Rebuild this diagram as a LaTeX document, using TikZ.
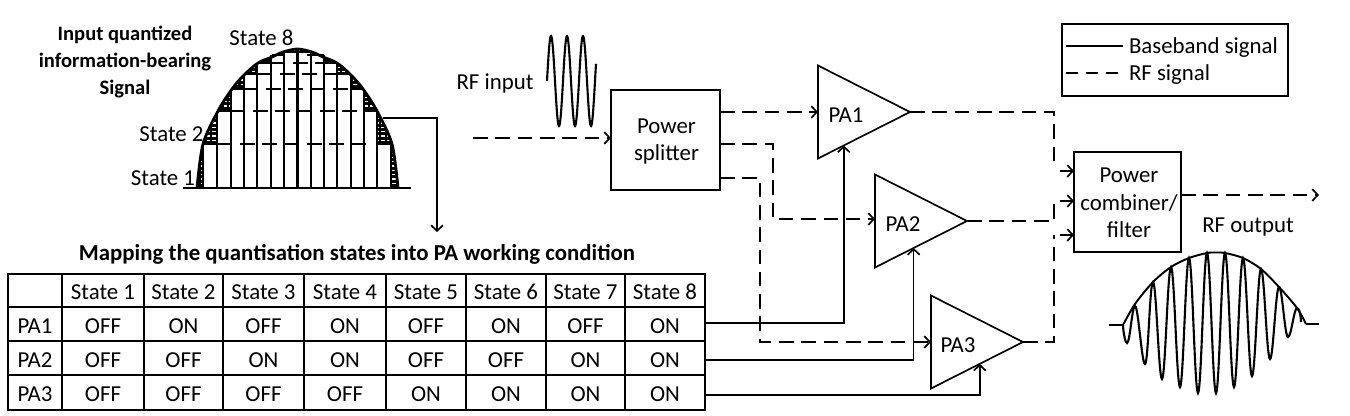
\documentclass[tikz,border=0pt]{standalone}
\usepackage{fontspec}
\setmainfont{Carlito}
\usetikzlibrary{arrows.meta,shapes.geometric,calc}
\tikzset{
  x=0.02cm,y=-0.02cm,
  every node/.style={font=\fontsize{13}{15.6}\selectfont,inner sep=0pt,outer sep=0pt},
  wire/.style={line width=0.95pt,line join=miter},
  bb/.style={wire},
  rf/.style={wire,dash pattern=on 8.3pt off 4.4pt},
  tip/.style={-{Straight Barb[length=3.2pt,width=6.8pt]}},
  boxed/.style={draw,line width=0.95pt},
  amp/.style={draw,line width=0.95pt,isosceles triangle,isosceles triangle stretches,shape border rotate=0,
    minimum height=1.84cm,minimum width=1.86cm,anchor=apex},
  txt/.style={anchor=base},
  bold/.style={font=\fontsize{13}{15.6}\selectfont\bfseries},
  boldsmall/.style={font=\fontsize{11.7}{15.6}\selectfont\bfseries},
  cell/.style={draw,line width=0.95pt},
}
\begin{document}
\begin{tikzpicture}
\useasboundingbox (0,0) rectangle (1350,416);
% dome
\def\domepts{(197,188)(203,144)(218,111)(232,89)(244,75)(258,63)(272,57)(283,52)(297.5,49)(312,52)(323,57)(337,63)(351,75)(363,89)(377,111)(392,144)(398,188)}
\begin{scope}
  \clip plot[smooth] coordinates {\domepts} -- cycle;
  \fill[black] (190,40) rectangle (405,190);
  \foreach \yy in {50,54.3,...,188}
    \draw[white,line width=0.7pt,dash pattern=on 2pt off 1.2pt] (190,\yy) -- (405,\yy);
\end{scope}
\fill[white] (203,188)--(203,144)--(217,144)--(217,111)--(231,111)--(231,89)--(244,89)--(244,74)--(257,74)--(257,63)--(271,63)--(271,55)--(284,55)--(284,52)--(311,52)--(311,55)--(324,55)--(324,63)--(337,63)--(337,74)--(351,74)--(351,89)--(364,89)--(364,111)--(377,111)--(377,144)--(391,144)--(391,188)--cycle;
\foreach \xx/\yy in {203/144,217/111,231/89,244/74,257/63,271/55,284/52,297.5/49,311/52,324/55,337/63,351/74,364/89,377/111,391/144}
  \draw[line width=1.2pt] (\xx,188) -- (\xx,\yy);
\foreach \ya/\xa/\xb in {144/203/231,144/377/391,111/218/243,111/364/377,89/232/257,89/351/364,74/244/271,74/337/351,63/258/285,63/324/337,55/272/285,55/311/324,52/285/311}
  \draw[line width=1.1pt] (\xa,\ya) -- (\xb,\ya);
\foreach \ya/\xa/\xb in {144/240/368,111/253/358,89/266/348,74/280/337,63/293/324,55/307/320}
  \draw[line width=1.1pt,dash pattern=on 8.3pt off 4.4pt] (\xa,\ya) -- (\xb,\ya);
\draw[line width=1.6pt] plot[smooth] coordinates {\domepts};
\draw[wire] (183,188) -- (411,188);
% texts top left
\node[boldsmall,align=center] (inp) at (125,62) {Input quantized\\information-bearing\\Signal};
\node[txt] (s8) at (261.5,45) {State 8};
\node[txt] (s2) at (171.5,141) {State 2};
\node[txt] (s1) at (163,185) {State 1};
\node[txt] (rfi) at (495,89) {RF input};
% RF input wave
\draw[line width=1.2pt] plot[domain=547:596,samples=120,smooth] (\x,{81-45*sin(22.5*(\x-547))});
% boxes
\node[boxed,minimum width=2.18cm,minimum height=2cm] (split) at (665.5,140) {};
\node[align=center] (splitt) at (666.5,141.5) {Power\\splitter};
\node[boxed,minimum width=2.14cm,minimum height=2cm] (comb) at (1127.5,202) {};
\node[align=center] (combt) at (1129,203) {Power\\combiner/\\filter};
\node[amp] (pa1) at (910,112) {};
\node[amp] (pa2) at (967,221) {};
\node[amp] (pa3) at (1023,342) {};
\node[txt] (pa1t) at (846,122) {PA1};
\node[txt] (pa2t) at (903,231) {PA2};
\node[txt] (pa3t) at (958,352) {PA3};
% legend
\node[boxed,minimum width=4.52cm,minimum height=1.44cm] (leg) at (1175,60) {};
\coordinate (la) at (1066,46); \coordinate (lb) at (1123,46);
\coordinate (lc) at (1066,73); \coordinate (ld) at (1123,73);
\draw[bb] (la) -- (lb);
\draw[rf,dash pattern=on 7pt off 4.4pt] (lc) -- (ld);
\node[txt,anchor=base west] (lt1) at (1129,53) {Baseband signal};
\node[txt,anchor=base west] (lt2) at (1129,80) {RF signal};
% table
\node[bold,txt] (ttl) at (357,260) {Mapping the quantisation states into PA working condition};
\foreach \cn/\xl/\xr/\hA/\pA/\pB/\pC in {
  0/8/62/{}/PA1/PA2/PA3,
  1/62/144/State 1/OFF/OFF/OFF,
  2/144/223/State 2/ON/OFF/OFF,
  3/223/304/State 3/OFF/ON/OFF,
  4/304/386/State 4/ON/ON/OFF,
  5/386/466/State 5/OFF/OFF/ON,
  6/466/546/State 6/ON/OFF/ON,
  7/546/625/State 7/OFF/ON/ON,
  8/625/705/State 8/ON/ON/ON}
{
  \foreach \rn/\yt/\yb/\tx in {0/274/307/\hA,1/307/341/\pA,2/341/375/\pB,3/375/410/\pC}
    \node[cell,minimum width={(\xr-\xl)*0.02cm},minimum height={(\yb-\yt)*0.02cm}] (c\cn r\rn) at ({(\xl+\xr)/2},{(\yt+\yb)/2}) {\smash{\raisebox{-0.18cm}{\tx}}};
}
% baseband connectors
\coordinate (dout) at (383,118);
\coordinate (dturn) at (437,118);
\coordinate (dend) at (437,232);
\draw[bb,tip] (dout) -- (dturn) -- (dend);
\draw[bb,tip] ([yshift=0.02cm]c8r1.east) -| ($(pa1.apex)!0.72!(pa1.right corner)$);
\draw[bb,tip] ([yshift=-0.04cm]c8r2.east) -| ($(pa2.apex)!0.58!(pa2.right corner)$);
\draw[bb,tip] ([yshift=-0.05cm]c8r3.east) -| ($(pa3.apex)!0.47!(pa3.right corner)$);
% RF connectors
\coordinate (rfin) at (473,138);
\draw[rf,tip] (rfin) -- (split.west |- rfin);
\coordinate (s1o) at (720,112);
\draw[rf,tip] (split.east |- s1o) -- (pa1.lower side);
\coordinate (s2o) at (720,144);
\coordinate (s2a) at (773,144);
\coordinate (s2b) at (773,219);
\draw[rf,tip] (split.east |- s2o) -- (s2a) -- (s2b) -- (s2b -| pa2.lower side);
\coordinate (s3o) at (720,178);
\coordinate (s3a) at (760,178);
\coordinate (s3b) at (760,342);
\draw[rf,tip] (split.east |- s3o) -- (s3a) -- (s3b) -- (s3b -| pa3.lower side);
\coordinate (c1) at (1054,168);
\coordinate (c2) at (1054,203);
\coordinate (c3) at (1054,235);
\draw[rf] (pa1.apex) -| (c1);
\draw[rf] (pa2.apex) -| (c2);
\draw[rf] (pa3.apex) -| (c3);
\coordinate (i1) at (1060,171);
\coordinate (i2) at (1060,201);
\coordinate (i3) at (1060,235);
\draw[wire,tip] (i1) -- (i1 -| comb.west);
\draw[wire,tip] (i2) -- (i2 -| comb.west);
\draw[wire,tip] (i3) -- (i3 -| comb.west);
\coordinate (rfo) at (1319,195);
\draw[rf,tip] (comb.east |- rfo) -- (rfo);
\node[txt] (rfot) at (1248,232) {RF output};
% RF output waveform
\draw[line width=1.1pt] (1109,325) -- (1123,325);
\draw[line width=1.1pt] (1306,324) -- (1319,324);
\draw[line width=1.1pt] plot[smooth] coordinates {(1123,325)(1135,304)(1153,282)(1171,267)(1189,258)(1207,253)(1216,252.5)(1225,253)(1243,258)(1261,269)(1279,287)(1297,308)(1306,324)};
\draw[line width=1.2pt] (1123,325) .. controls +(0.5,10) and +(-1.5,0) .. (1127,343)
 .. controls +(3,0) and +(-3,0) .. (1135,306)
 .. controls +(3.3,0) and +(-3.3,0) .. (1145,364)
 .. controls +(3.3,0) and +(-3.3,0) .. (1153,282)
 .. controls +(3.3,0) and +(-3.3,0) .. (1162,379)
 .. controls +(3.3,0) and +(-3.3,0) .. (1171,267)
 .. controls +(3.3,0) and +(-3.3,0) .. (1180,387)
 .. controls +(3.3,0) and +(-3.3,0) .. (1189,258)
 .. controls +(3.3,0) and +(-3.3,0) .. (1198,393)
 .. controls +(3.3,0) and +(-3.3,0) .. (1207,253)
 .. controls +(3.3,0) and +(-3.3,0) .. (1216,393)
 .. controls +(3.3,0) and +(-3.3,0) .. (1225,253)
 .. controls +(3.3,0) and +(-3.3,0) .. (1234,387)
 .. controls +(3.3,0) and +(-3.3,0) .. (1243,258)
 .. controls +(3.3,0) and +(-3.3,0) .. (1252,376)
 .. controls +(3.3,0) and +(-3.3,0) .. (1261,269)
 .. controls +(3.3,0) and +(-3.3,0) .. (1270,359)
 .. controls +(3.3,0) and +(-3.3,0) .. (1279,287)
 .. controls +(3.3,0) and +(-3.3,0) .. (1288,337)
 .. controls +(3.3,0) and +(-3,0) .. (1297,308)
 .. controls +(2,0) and +(-0.3,-8) .. (1301,322);
\end{tikzpicture}
\end{document}
